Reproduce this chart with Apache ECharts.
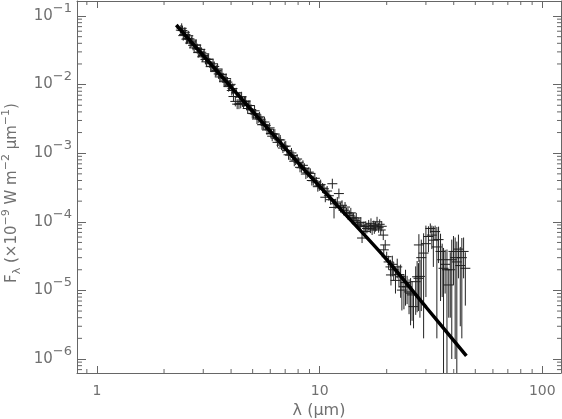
<!DOCTYPE html>
<html>
<head>
<meta charset="utf-8">
<script src="https://cdn.jsdelivr.net/npm/echarts@6/dist/echarts.min.js"></script>
<style>
html,body{margin:0;padding:0;background:#fff;}
#chart{width:562px;height:419px;}
</style>
</head>
<body>
<div id="chart"></div>
<script>
// ---- Observed spectrum (scan A): wavelength (um), flux, 1-sigma error ----
const wave = [
  2.38,2.42,2.46,2.50,2.55,2.60,2.65,2.70,2.76,2.82,2.88,2.94,3.00,3.07,3.14,3.21,3.28,3.36,3.44,3.52,
  3.60,3.68,3.76,3.85,3.94,4.03,4.06,4.10,4.18,4.22,4.26,4.34,4.38,4.42,4.50,4.60,4.70,4.80,4.92,5.04,
  5.16,5.30,5.44,5.58,5.72,5.88,6.04,6.20,6.38,6.56,6.74,6.94,7.14,7.36,7.58,7.80,8.04,8.28,8.54,8.80,
  9.08,9.36,9.66,9.96,10.3,10.6,11.0,11.4,11.6,11.8,12.2,12.4,12.8,13.2,13.6,14.0,14.4,14.8,15.2,15.5,
  15.8,16.0,16.3,16.6,16.9,17.2,17.5,17.8,18.1,18.4,18.8,19.0,19.3,19.4,19.7,20.0,20.4,20.8,20.9,21.2,
  21.5,21.9,22.3,22.7,23.1,23.4,23.9,24.3,24.7,25.2,25.6,26.0,26.4,27.0,27.4,27.8,27.9,28.2,28.6,29.3,
  30.0,30.8,31.4,31.9,32.4,33.0,33.6,34.2,34.9,35.5,36.0,36.6,37.3,38.0,38.6,39.2,39.9,40.6,41.3,42.0,
  42.8,43.5,44.3,45.1
];
const flux = [
  0.0622,0.0613,0.0539,0.0532,0.0467,0.0465,0.0420,0.0374,0.0378,0.0334,0.0298,0.0296,0.0266,0.0233,0.0233,0.0207,0.0185,0.0184,0.0161,0.0143,
  0.0139,0.01256,0.01133,0.01088,0.00976,0.00820,0.00875,0.00670,0.00569,0.00759,0.00519,0.00519,0.00662,0.00532,0.00559,0.00565,0.00499,0.00495,0.00432,0.00377,
  0.00371,0.00328,0.00313,0.00263,0.00254,0.00224,0.00194,0.00191,0.00166,0.00157,0.00131,0.00125,0.00110,0.000939,0.000924,0.000794,0.000737,0.000613,0.000602,0.000517,
  0.000508,0.000397,0.000380,0.000334,0.000310,0.000228,0.000240,0.000359,0.000162,0.000183,0.000258,0.000161,0.000147,0.000135,0.000124,0.000110,0.000104,9.21e-5,8.78e-5,5.8e-5,
  8.5e-5,7.2e-5,8.0e-5,9.0e-5,8.1e-5,7.6e-5,8.8e-5,8.5e-5,1.0e-4,8.2e-5,7.6e-5,8.6e-5,6.4e-5,3.9e-5,4.6e-5,3.1e-5,2.6e-5,2.2e-5,1.68e-5,2.4e-5,
  2.0e-5,1.4e-5,2.2e-5,1.7e-5,1.58e-5,1.01e-5,1.13e-5,1.3e-5,1.13e-5,9.5e-6,9.1e-6,8.6e-6,5.8e-6,1.34e-5,1.58e-5,1.5e-5,4.6e-5,1.6e-5,3.0e-5,3.5e-5,
  4.8e-5,6.1e-5,8.0e-5,6.4e-5,5.4e-5,7.2e-5,4.3e-5,5.5e-5,3.7e-5,2.8e-5,2.1e-5,2.4e-5,2.0e-5,1.2e-5,2.0e-5,2.8e-5,3.7e-5,3.0e-5,2.6e-5,4.0e-5,
  2.3e-5,3.0e-5,3.7e-5,2.1e-5
];
const fluxErr = [
  0,0,0,0,0,0,0,0,0,0,0,0,0,0,0,0,0,0,0,0,
  0,0,0,0,0,0,0,0,0,0,0,0,0,0,0,0,0,0,0,0,
  0,0,0,0,0,0,0,0,0,0,0,0,0,0,0,0,0,0,0,0,
  0,0,0,0,0,3e-5,0,3e-5,5e-5,0,2e-5,0,0,0,0,0,0,0,0,8e-6,
  8e-6,8e-6,8e-6,8e-6,8e-6,8e-6,8e-6,8e-6,1e-5,8e-6,8e-6,8e-6,8e-6,6e-6,6e-6,5e-6,6e-6,6e-6,5e-6,8e-6,
  6e-6,5e-6,7e-6,6e-6,8e-6,5e-6,6e-6,7e-6,5e-6,5e-6,6e-6,5e-6,3e-6,9e-6,1.1e-5,1.0e-5,2.0e-5,1.2e-5,2.5e-5,3.3e-5,
  4.0e-5,2.5e-5,1.0e-5,2.4e-5,3.2e-5,1.6e-5,4.1e-5,3.0e-5,3.0e-5,2.0e-5,2.06e-5,1.5e-5,1.95e-5,8e-6,1.6e-5,2.7e-5,2.5e-5,2.9e-5,2.55e-5,2.5e-5,
  2.0e-5,2.8e-5,2.2e-5,1.5e-5
];
// ---- Observed spectrum (scan B, overlapping points, no plotted error) ----
const waveB = [
  2.40,2.44,2.48,2.52,2.57,2.62,2.67,2.73,2.79,2.85,2.91,2.97,3.03,3.10,3.17,3.24,3.32,3.40,3.48,3.56,
  3.64,3.72,3.80,3.90,3.98,4.46,4.55,4.65,4.75,4.86,4.98,5.10,5.23,5.37,5.51,5.65,5.80,5.96,6.12,6.29,
  6.47,6.65,6.84,7.04,7.25,7.47,7.69,7.92,8.16,8.41,8.67,8.94,9.22,9.51,9.81,10.1,10.45,10.8,11.2,12.0,
  12.6,13.0,13.4,13.8,14.2,14.6,15.0,15.3,16.1,17.0,17.6,18.6
];
const fluxB = [
  0.06616,0.05178,0.05796,0.04600,0.05146,0.04033,0.04472,0.03426,0.03762,0.02928,0.03258,0.02543,0.02811,0.02148,0.02352,0.01827,0.02009,0.01548,0.01689,0.01293,
  0.01416,0.01100,0.01223,0.00935,0.01008,0.00664,0.00525,0.00576,0.00448,0.00495,0.00381,0.00415,0.00315,0.00339,0.00260,0.00285,0.00218,0.00234,0.00177,0.00190,
  0.00144,0.00156,0.00119,0.00127,0.000948,0.001009,0.000763,0.000823,0.000623,0.000666,0.000497,0.000530,0.000400,0.000431,0.000325,0.000348,0.000302,0.000281,0.000210,0.000194,
  1.74e-4,1.64e-4,1.34e-4,1.35e-4,1.14e-4,1.14e-4,9.63e-5,9.84e-5,8.6e-5,9.5e-5,7.9e-5,9.2e-5
];

// ---- Photospheric model curve ----
const modelWave = [2.27, 3.0, 3.97, 5.5, 7.94, 12.0, 19.73, 30.0, 45.6];
const modelFlux = [0.0739, 0.02658, 9.50e-3, 2.865e-3, 7.45e-4, 1.725e-4, 2.967e-5, 5.73e-6, 1.107e-6];

// ---- Axes ----
const xMin = 0.813, xMax = 121.3;
const yMin = 6.25e-7, yMax = 0.1655;
const xMajorTicks = [1, 10, 100];
const yMajorExponents = [-6, -5, -4, -3, -2, -1];
const minorMultipliers = [2, 3, 4, 5, 6, 7, 8, 9];
const xDecades = [0.1, 1, 10];
const yDecades = [1e-7, 1e-6, 1e-5, 1e-4, 1e-3, 1e-2, 1e-1];

const AX = '#666', TXT = '#707070', FONT = 'DejaVu Sans, sans-serif';

const pts = wave.map((w, i) => [w, flux[i], Math.max(flux[i] - fluxErr[i], yMin), flux[i] + fluxErr[i]])
  .concat(waveB.map((w, i) => [w, fluxB[i], fluxB[i], fluxB[i]]));
const model = modelWave.map((w, i) => [w, modelFlux[i]]);

const minorTicks = [];
xDecades.forEach(d => minorMultipliers.forEach(m => { const v = d * m; if (v > xMin && v < xMax) minorTicks.push([v, yMin, 0]); }));
yDecades.forEach(d => minorMultipliers.forEach(m => { const v = d * m; if (v > yMin && v < yMax) minorTicks.push([xMin, v, 1]); }));

const chart = echarts.init(document.getElementById('chart'), null, {renderer: 'canvas'});

const baseX = {
  type: 'log', min: xMin, max: xMax, splitLine: {show: false},
  axisLine: {lineStyle: {color: AX, width: 1}},
  axisTick: {inside: true, length: 7, lineStyle: {color: AX}}
};
const baseY = {
  type: 'log', min: yMin, max: yMax, splitLine: {show: false},
  axisLine: {lineStyle: {color: AX, width: 1}},
  axisTick: {inside: true, length: 9, lineStyle: {color: AX}}
};

chart.setOption({
  animation: false,
  backgroundColor: '#fff',
  grid: {left: 77, top: 1, width: 484, height: 372, containLabel: false, outerBoundsMode: 'none'},
  xAxis: [
    Object.assign({}, baseX, {
      position: 'bottom',
      name: 'λ (μm)', nameLocation: 'middle', nameGap: 28,
      nameTextStyle: {color: TXT, fontSize: 16, fontFamily: FONT},
      axisLabel: {
        showMinLabel: false, showMaxLabel: false, margin: 11,
        color: TXT, fontSize: 14, fontFamily: FONT,
        formatter: v => { const r = Math.round(v); return xMajorTicks.indexOf(r) >= 0 ? String(r) : ''; }
      }
    }),
    Object.assign({}, baseX, {position: 'top', axisLabel: {show: false}})
  ],
  yAxis: [
    Object.assign({}, baseY, {
      position: 'left',
      name: '{n|F}{sub|λ}{n| (×10}{sup|−9}{n| W m}{sup|−2}{n| μm}{sup|−1}{n|)}',
      nameLocation: 'middle', nameGap: 52,
      nameTextStyle: {
        color: TXT, fontSize: 15, fontFamily: FONT, padding: [0, 12, 0, 0],
        rich: {
          n: {color: TXT, fontSize: 15, fontFamily: FONT, lineHeight: 22},
          sub: {color: TXT, fontSize: 11, fontFamily: FONT, lineHeight: 11, verticalAlign: 'bottom'},
          sup: {color: TXT, fontSize: 11, fontFamily: FONT, lineHeight: 11, verticalAlign: 'top'}
        }
      },
      axisLabel: {
        showMinLabel: false, showMaxLabel: false, margin: 5,
        color: TXT, fontSize: 15, fontFamily: FONT, lineHeight: 28,
        formatter: v => {
          const n = Math.round(Math.log10(v));
          if (yMajorExponents.indexOf(n) < 0) return '';
          return '{b|10}{s|−' + (-n) + '}';
        },
        rich: {
          b: {color: TXT, fontSize: 15, fontFamily: FONT, lineHeight: 28},
          s: {color: TXT, fontSize: 13, fontFamily: FONT, lineHeight: 13, verticalAlign: 'top'}
        }
      }
    }),
    Object.assign({}, baseY, {position: 'right', axisTick: {inside: true, length: 8, lineStyle: {color: AX}}, axisLabel: {show: false}})
  ],
  series: [
    {
      type: 'custom', name: 'minorTicks', silent: true, clip: false,
      xAxisIndex: 0, yAxisIndex: 0, z: 5,
      data: minorTicks,
      renderItem: (params, api) => {
        const kind = api.value(2);
        if (kind === 0) {
          const b = api.coord([api.value(0), yMin]);
          const t = api.coord([api.value(0), yMax]);
          return {type: 'group', children: [
            {type: 'line', shape: {x1: b[0], y1: b[1], x2: b[0], y2: b[1] - 4}, style: {stroke: AX, lineWidth: 1}},
            {type: 'line', shape: {x1: t[0], y1: t[1], x2: t[0], y2: t[1] + 4}, style: {stroke: AX, lineWidth: 1}}
          ]};
        }
        const l = api.coord([xMin, api.value(1)]);
        const r = api.coord([xMax, api.value(1)]);
        return {type: 'group', children: [
          {type: 'line', shape: {x1: l[0], y1: l[1], x2: l[0] + 5, y2: l[1]}, style: {stroke: AX, lineWidth: 1}},
          {type: 'line', shape: {x1: r[0], y1: r[1], x2: r[0] - 4, y2: r[1]}, style: {stroke: AX, lineWidth: 1}}
        ]};
      }
    },
    {
      type: 'custom', name: 'spectrum', silent: true,
      xAxisIndex: 0, yAxisIndex: 0, z: 2,
      data: pts,
      encode: {x: 0, y: 1},
      renderItem: (params, api) => {
        const x = api.value(0);
        const p = api.coord([x, api.value(1)]);
        const lo = api.coord([x, api.value(2)]);
        const hi = api.coord([x, api.value(3)]);
        const h = 5;
        const top = Math.min(p[1] - h, hi[1]);
        const bot = Math.max(p[1] + h, lo[1]);
        return {type: 'group', children: [
          {type: 'line', shape: {x1: p[0] - h, y1: p[1], x2: p[0] + h, y2: p[1]}, style: {stroke: '#1a1a1a', lineWidth: 1}},
          {type: 'line', shape: {x1: p[0], y1: top, x2: p[0], y2: bot}, style: {stroke: '#222', lineWidth: 1}}
        ]};
      }
    },
    {
      type: 'line', name: 'model', data: model, smooth: 0.3,
      showSymbol: false, symbol: 'none', z: 4,
      lineStyle: {color: '#000', width: 3.5}
    }
  ]
});
</script>
</body>
</html>
